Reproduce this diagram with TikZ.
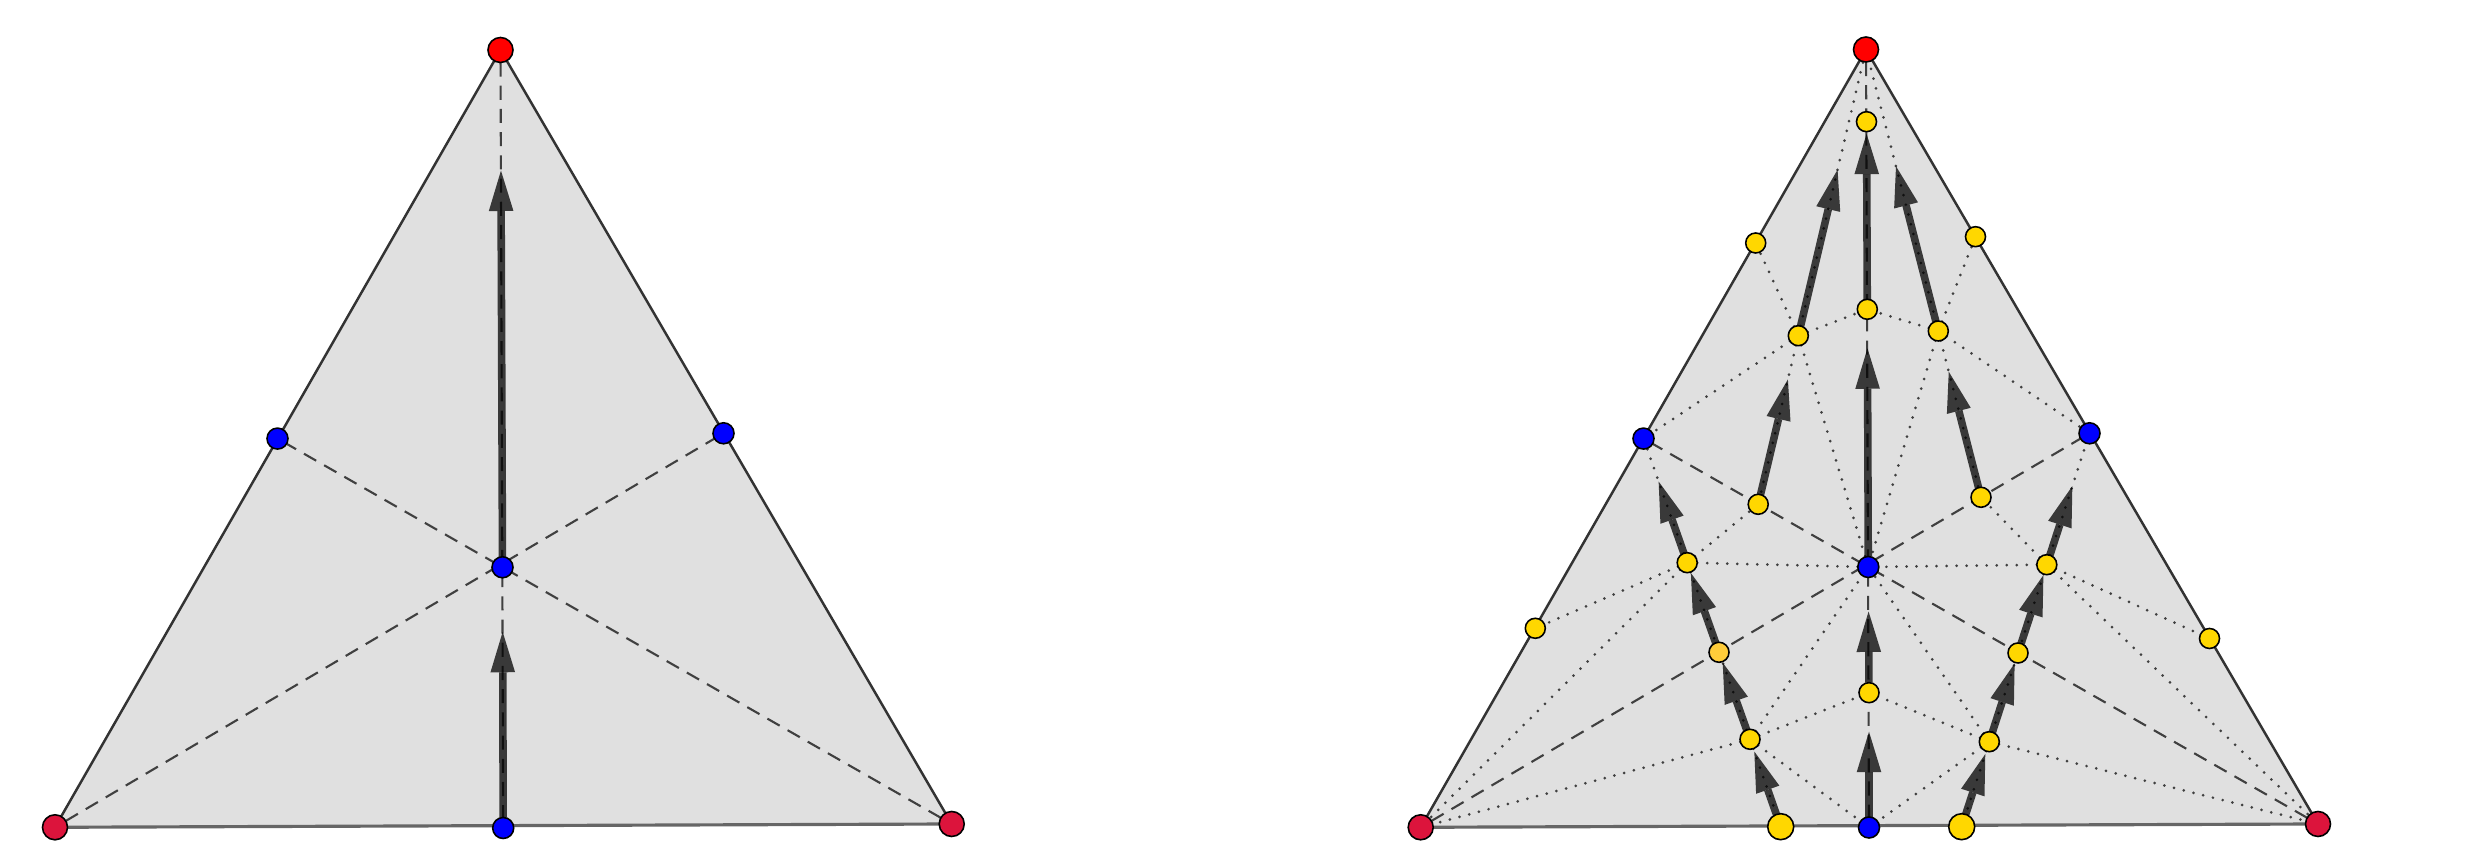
\documentclass[tikz,border=0pt]{standalone}
\usetikzlibrary{arrows.meta}
\pgfdeclarelayer{bg}
\pgfsetlayers{bg,main}
\definecolor{tri}{HTML}{E0E0E0}
\definecolor{edgecol}{HTML}{333333}
\definecolor{crim}{HTML}{DC143C}
\definecolor{goldpt}{HTML}{FFD700}
\definecolor{goldor}{HTML}{FFCC3A}
\begin{document}
\begin{tikzpicture}[x=0.01cm,y=-0.01cm,
  pt/.style={circle,draw=black,line width=0.45pt,inner sep=0pt,outer sep=0pt},
  redpt/.style={pt,fill=red,minimum size=0.25cm},
  crimpt/.style={pt,fill=crim,minimum size=0.25cm},
  bluept/.style={pt,fill=blue,minimum size=0.21cm},
  yelpt/.style={pt,fill=goldpt,minimum size=0.2cm},
  bigyel/.style={pt,fill=goldpt,minimum size=0.26cm},
  orapt/.style={pt,fill=goldor,minimum size=0.2cm},
  side/.style={draw=edgecol,line width=0.7pt},
  basecol/.style={draw=black!60,line width=0.9pt},
  median/.style={draw=black!75,line width=0.6pt,dash pattern=on 4pt off 2.6pt},
  dots/.style={draw=black!75,line width=0.85pt,dash pattern=on 0pt off 2.85pt,line cap=round},
  flow/.style={draw=black,opacity=0.74,line width=2.15pt,-{Triangle[length=11.5pt,width=7pt,line width=0pt]}}
]
\useasboundingbox (0,0) rectangle (2478,868);

% ---------- left triangle nodes ----------
\node[redpt]  (lT)  at (500.5,50) {};
\node[crimpt] (lBL) at (55,827.3) {};
\node[crimpt] (lBR) at (951.7,824) {};
\node[bluept] (lML) at (277.5,438.6) {};
\node[bluept] (lMR) at (723.5,433.3) {};
\node[bluept] (lC)  at (502.5,567.3) {};
\node[bluept] (lMB) at (503.2,828) {};

% ---------- right triangle nodes ----------
\node[redpt]  (T)   at (1866,49.5) {};
\node[crimpt] (BL)  at (1420.7,827.3) {};
\node[crimpt] (BR)  at (2318,824) {};
\node[bluept] (ML)  at (1643.5,438.6) {};
\node[bluept] (MR)  at (2089.5,433.3) {};
\node[bluept] (C)   at (1868.3,567) {};
\node[bluept] (MB)  at (1869,827.5) {};
\node[yelpt]  (Y0)  at (1866.5,121.7) {};
\node[yelpt]  (EL1) at (1755.7,243) {};
\node[yelpt]  (ER1) at (1975.5,236.7) {};
\node[yelpt]  (CU)  at (1867.3,309.3) {};
\node[yelpt]  (P1)  at (1798.3,335.7) {};
\node[yelpt]  (P2)  at (1938.3,331) {};
\node[yelpt]  (LM)  at (1758.2,504.3) {};
\node[yelpt]  (RM)  at (1981,497.3) {};
\node[yelpt]  (L1)  at (1687.2,562.7) {};
\node[yelpt]  (R1)  at (2046.8,564.7) {};
\node[yelpt]  (EL2) at (1535.3,628.3) {};
\node[yelpt]  (ER2) at (2209.5,638.5) {};
\node[orapt]  (LO)  at (1719,652.3) {};
\node[yelpt]  (RO)  at (2018,653) {};
\node[yelpt]  (CL)  at (1869,692.7) {};
\node[yelpt]  (L3)  at (1750,739.3) {};
\node[yelpt]  (R3)  at (1989.3,741.7) {};
\node[bigyel] (BYL) at (1780.7,826.7) {};
\node[bigyel] (BYR) at (1961.7,826.7) {};

\begin{pgfonlayer}{bg}
  % left triangle
  \fill[tri] (lT.center) -- (lBL.center) -- (lBR.center) -- cycle;
  \draw[side] (lBL.center) -- (lT.center) -- (lBR.center);
  \draw[basecol] (lBL.center) -- (lBR.center);
  \draw[median] (lT) -- (lMB);
  \draw[median] (lBL) -- (lMR);
  \draw[median] (lBR) -- (lML);
  \draw[flow,shorten >=0.54cm] (lMB) -- (lC);
  \draw[flow,shorten >=1.08cm] (lC) -- (lT);

  % right triangle
  \fill[tri] (T.center) -- (BL.center) -- (BR.center) -- cycle;
  \draw[side] (BL.center) -- (T.center) -- (BR.center);
  \draw[basecol] (BL.center) -- (BR.center);
  \draw[median] (T) -- (MB);
  \draw[median] (BL) -- (MR);
  \draw[median] (BR) -- (ML);
  \foreach \a/\b in {P1/T,P1/ML,P1/C,P1/EL1,P1/CU,P1/LM,
                     P2/T,P2/MR,P2/C,P2/ER1,P2/CU,P2/RM,
                     L1/ML,L1/BL,L1/C,L1/EL2,L1/LM,L1/LO,
                     R1/MR,R1/BR,R1/C,R1/ER2,R1/RM,R1/RO,
                     L3/BL,L3/MB,L3/C,L3/LO,L3/CL,L3/BYL,
                     R3/BR,R3/MB,R3/C,R3/RO,R3/CL,R3/BYR}
    \draw[dots] (\a) -- (\b);
  % central column
  \draw[flow,shorten >=0.29cm] (MB) -- (CL);
  \draw[flow,shorten >=0.34cm] (CL) -- (C);
  \draw[flow,shorten >=0.29cm] (C) -- (CU);
  \draw[flow,shorten >=0.02cm] (CU) -- (Y0);
  % left column
  \draw[flow,shorten >=0.03cm] (BYL) -- (L3);
  \draw[flow,shorten >=0.01cm] (L3) -- (LO);
  \draw[flow,shorten >=0.01cm] (LO) -- (L1);
  \draw[flow,shorten >=0.35cm] (L1) -- (ML);
  \draw[flow,shorten >=0.35cm] (LM) -- (P1);
  \draw[flow,shorten >=1.11cm] (P1) -- (T);
  % right column
  \draw[flow,shorten >=0.03cm] (BYR) -- (R3);
  \draw[flow,shorten >=0.01cm] (R3) -- (RO);
  \draw[flow,shorten >=0.01cm] (RO) -- (R1);
  \draw[flow,shorten >=0.45cm] (R1) -- (MR);
  \draw[flow,shorten >=0.32cm] (RM) -- (P2);
  \draw[flow,shorten >=1.08cm] (P2) -- (T);
\end{pgfonlayer}
\end{tikzpicture}
\end{document}
